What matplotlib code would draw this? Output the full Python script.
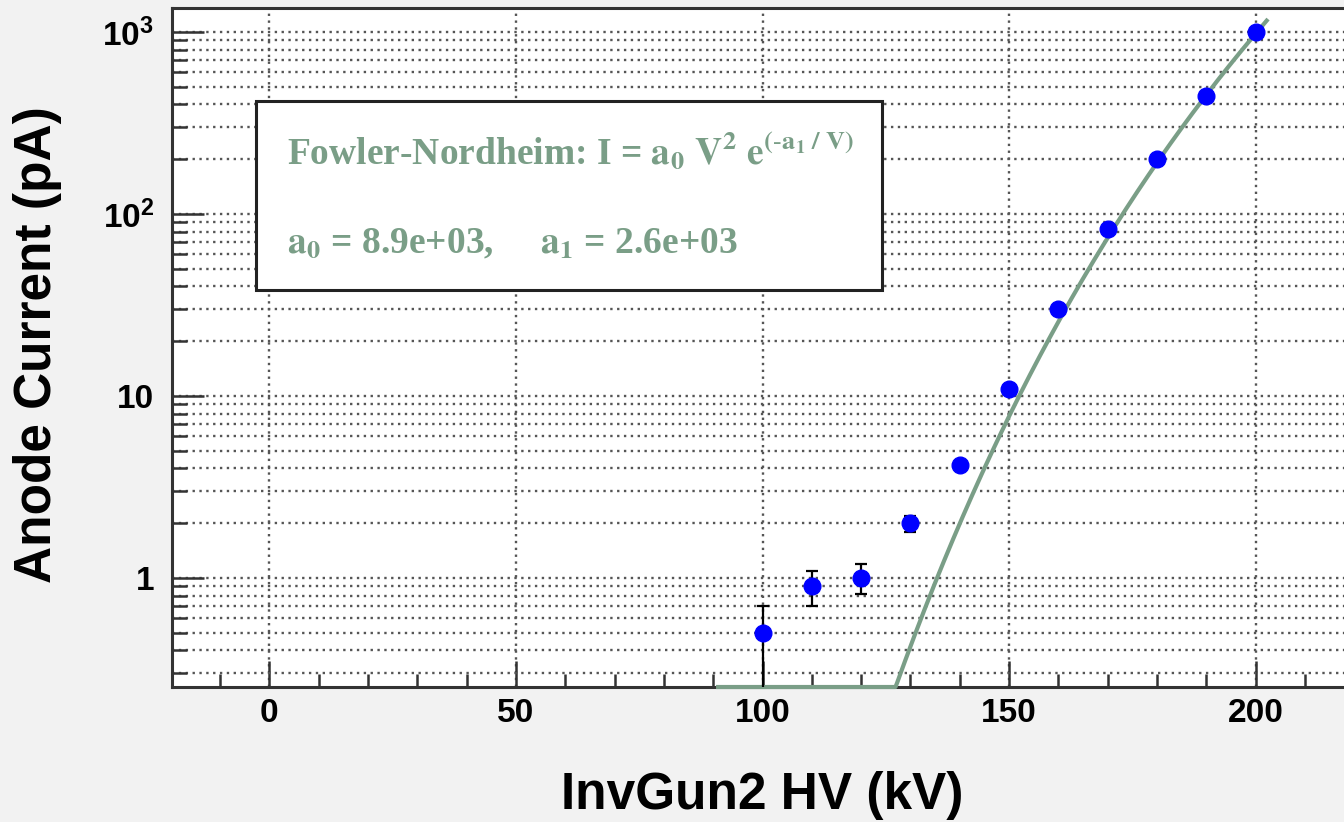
#------------------------------------------------------------------------------
#Library

import numpy as np
import matplotlib
matplotlib.use("Agg")
import matplotlib.pyplot as plt
from matplotlib.ticker import FixedLocator, FixedFormatter, NullFormatter

plt.rcParams['font.family'] = ['Liberation Sans', 'DejaVu Sans']
plt.rcParams['mathtext.fontset'] = 'custom'
plt.rcParams['mathtext.rm'] = 'Liberation Sans:bold'
plt.rcParams['mathtext.bf'] = 'Liberation Sans:bold'
plt.rcParams['mathtext.it'] = 'Liberation Sans:bold'

#------------------------------------------------------------------------------
#Data

hv = [100, 110, 120, 130, 140, 150, 160, 170, 180, 190, 200]
current = [0.5, 0.9, 1.0, 2.0, 4.2, 11, 30, 83, 200, 445, 1000]
err_lo = [0.3, 0.2, 0.18, 0.2, 0.2, 0.2, 0.2, 0.2, 0.2, 0.2, 0.2]
err_hi = [0.2, 0.2, 0.19, 0.2, 0.2, 0.2, 0.2, 0.2, 0.2, 0.2, 0.2]

# fit parameters (shown rounded in the box)
a0 = 8.9e3
a1 = 2.56e3
fit_range = [91, 202.2]

xticks = [0, 50, 100, 150, 200]
yticks = [1, 10, 100, 1000]
ytick_labels = ['1', '10', r'$10^{2}$', r'$10^{3}$']

xmin, xmax = -19.7, 219.7
ymin, ymax = 0.252, 1355

#------------------------------------------------------------------------------
#Figure

W, H = 1344, 822
fig = plt.figure(figsize=(W / 100, H / 100), dpi=100)
fig.patch.set_facecolor('#f2f2f2')

left, right, bottom, top = 172, 1353, 687, 8
ax = fig.add_axes([left / W, 1 - bottom / H, (right - left) / W, (bottom - top) / H])
ax.set_facecolor('white')
ax.set_yscale('log')
ax.set_xlim(xmin, xmax)
ax.set_ylim(ymin, ymax)

fitcol = '#7a9e87'

# fit curve, clipped at the bottom of the frame like ROOT does
v = np.linspace(fit_range[0], fit_range[1], 400)
i_fit = a0 * v ** 2 * np.exp(-a1 / v)
ax.plot(v, np.maximum(i_fit, ymin), color=fitcol, lw=3.0, zorder=3, clip_on=False)

ax.errorbar(hv, current, yerr=[err_lo, err_hi], fmt='o', color='#0000ff',
            ms=12, ecolor='black', elinewidth=1.6, capsize=4.5, capthick=1.6, zorder=4)

#------------------------------------------------------------------------------
#Axes, ticks, grid

for s in ['left', 'bottom', 'top']:
    ax.spines[s].set_linewidth(2.2)
    ax.spines[s].set_color('#333333')
ax.spines['right'].set_visible(False)

ax.xaxis.set_major_locator(FixedLocator(xticks))
ax.xaxis.set_minor_locator(FixedLocator(np.arange(-10, 220, 10)))
ax.yaxis.set_major_locator(FixedLocator(yticks))
ax.yaxis.set_major_formatter(FixedFormatter(ytick_labels))
minors = [m * 10.0 ** e for e in range(-1, 3) for m in range(2, 10)]
ax.yaxis.set_minor_locator(FixedLocator(minors))
ax.yaxis.set_minor_formatter(NullFormatter())

ax.tick_params(axis='x', which='major', direction='in', length=19, width=1.8,
               color='#333333', labelsize=24, pad=8)
ax.tick_params(axis='x', which='minor', direction='in', length=9.5, width=1.8, color='#333333')
ax.tick_params(axis='y', which='major', direction='in', length=23, width=1.8,
               color='#333333', labelsize=24, pad=13)
ax.tick_params(axis='y', which='minor', direction='in', length=11, width=1.8, color='#333333')
ax.tick_params(top=False, right=False, which='both')
for lab in ax.get_xticklabels() + ax.get_yticklabels():
    lab.set_fontweight('bold')

ax.grid(True, axis='x', which='major', ls=(0, (1, 1.9)), lw=1.7, color='#555555')
ax.grid(True, axis='y', which='both', ls=(0, (1, 1.9)), lw=1.7, color='#555555')
ax.set_axisbelow(True)

fig.text(762 / W, 1 - 795 / H, 'InvGun2 HV (kV)', fontsize=37, fontweight='bold',
         ha='center', va='center')
fig.text(38 / W, 1 - 345 / H, 'Anode Current (pA)', fontsize=37, fontweight='bold',
         ha='center', va='center', rotation=90)

#------------------------------------------------------------------------------
#Fit box

box = plt.Rectangle((256 / W, 1 - 290 / H), (882 - 256) / W, (290 - 101) / H,
                    transform=fig.transFigure, facecolor='white', edgecolor='#222222',
                    lw=2.2, zorder=5)
fig.patches.append(box)

fig.text(287 / W, 1 - 164 / H,
         r'Fowler-Nordheim: I = $\mathbf{a_0}$ $\mathbf{V^2}$ $\mathbf{e^{(\text{-}a_1\ /\ V)}}$',
         fontsize=27, fontweight='bold', family='Liberation Serif', math_fontfamily='stix',
         color=fitcol, ha='left', va='baseline', zorder=6)
fig.text(287 / W, 1 - 252 / H,
         r'$\mathbf{a_0}$ = 8.9e+03,     $\mathbf{a_1}$ = 2.6e+03',
         fontsize=27, fontweight='bold', family='Liberation Serif', math_fontfamily='stix',
         color=fitcol, ha='left', va='baseline', zorder=6)

fig.savefig('out.png', dpi=100, facecolor=fig.get_facecolor())
